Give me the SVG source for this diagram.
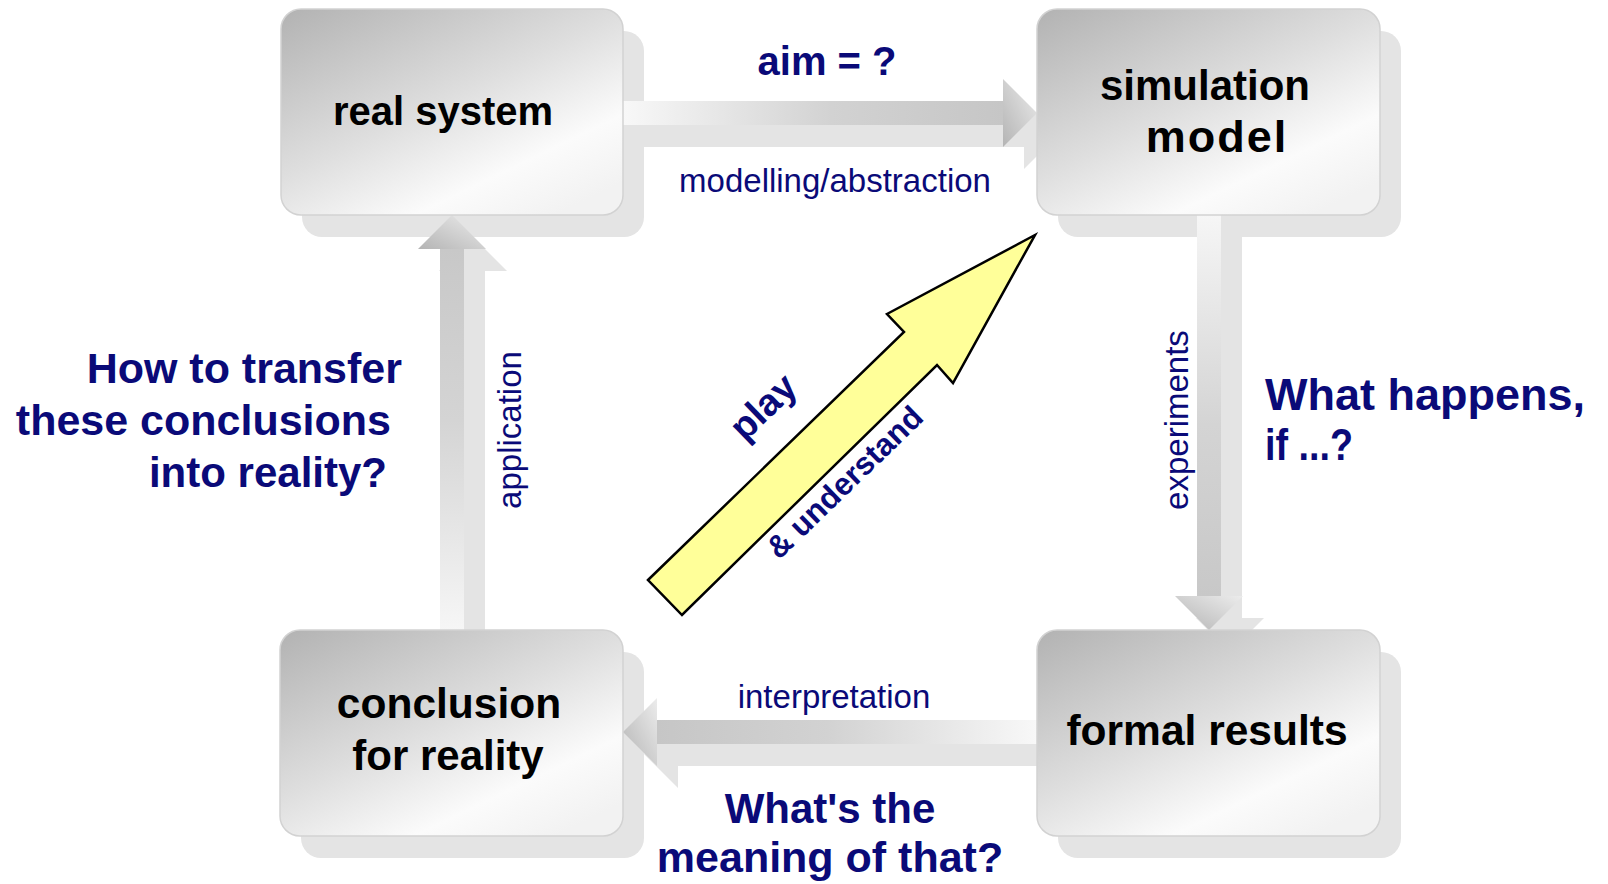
<svg xmlns="http://www.w3.org/2000/svg" width="1608" height="884" viewBox="0 0 1608 884">
<style>
text{font-family:"Liberation Sans",Arial,"DejaVu Sans",sans-serif}
.bl{font-weight:bold;font-size:42px;fill:#000;text-anchor:middle}
.q{font-weight:bold;fill:#0a0a78}
.lb{font-size:33px;fill:#0a0a78}
.shadow{fill:#e4e4e4}
.box{fill:url(#boxg);stroke:#d2d2d2;stroke-width:1.5}
</style>
<defs>
<linearGradient id="boxg" x1="0" y1="0" x2="0.8" y2="1">
<stop offset="0" stop-color="#b2b2b2"/>
<stop offset="0.5" stop-color="#dedede"/>
<stop offset="0.8" stop-color="#fbfbfb"/>
<stop offset="1" stop-color="#f2f2f2"/>
</linearGradient>
<linearGradient id="gR" gradientUnits="userSpaceOnUse" x1="623" y1="0" x2="1003" y2="0">
<stop offset="0" stop-color="#f8f8f8"/><stop offset="0.55" stop-color="#d2d2d2"/><stop offset="1" stop-color="#c6c6c6"/>
</linearGradient>
<linearGradient id="gL" gradientUnits="userSpaceOnUse" x1="1037" y1="0" x2="657" y2="0">
<stop offset="0" stop-color="#f8f8f8"/><stop offset="0.55" stop-color="#d2d2d2"/><stop offset="1" stop-color="#c6c6c6"/>
</linearGradient>
<linearGradient id="gD" gradientUnits="userSpaceOnUse" x1="0" y1="215" x2="0" y2="596">
<stop offset="0" stop-color="#f6f6f6"/><stop offset="0.55" stop-color="#d4d4d4"/><stop offset="1" stop-color="#c8c8c8"/>
</linearGradient>
<linearGradient id="gU" gradientUnits="userSpaceOnUse" x1="0" y1="630" x2="0" y2="249">
<stop offset="0" stop-color="#f6f6f6"/><stop offset="0.55" stop-color="#d4d4d4"/><stop offset="1" stop-color="#c8c8c8"/>
</linearGradient>
<linearGradient id="gHead" x1="0" y1="1" x2="1" y2="0">
<stop offset="0" stop-color="#b4b4b4"/><stop offset="1" stop-color="#ececec"/>
</linearGradient>
</defs>

<g id="shadows">
<rect class="shadow" x="302" y="31" width="342" height="206" rx="20"/>
<rect class="shadow" x="1058" y="31" width="343" height="206" rx="20"/>
<rect class="shadow" x="301" y="652" width="343" height="206" rx="20"/>
<rect class="shadow" x="1058" y="652" width="343" height="206" rx="20"/>
<polygon class="shadow" points="644,123 1024,123 1024,101 1058,135 1024,169 1024,147 644,147"/>
<polygon class="shadow" points="1218,237 1242,237 1242,618 1264,618 1230,652 1196,618 1218,618"/>
<polygon class="shadow" points="1058,742 678,742 678,720 644,754 678,788 678,766 1058,766"/>
<polygon class="shadow" points="461,652 485,652 485,271 507,271 473,237 439,271 461,271"/>
</g>

<g id="connectors">
<g id="modelling">
<rect x="623" y="101" width="381" height="24" fill="url(#gR)"/>
<polygon points="1003,79 1037,113 1003,147" fill="url(#gHead)"/>
</g>
<g id="experiments">
<rect x="1197" y="215" width="24" height="382" fill="url(#gD)"/>
<polygon points="1175,596 1243,596 1209,630" fill="url(#gHead)"/>
</g>
<g id="interpretation">
<rect x="656" y="720" width="381" height="24" fill="url(#gL)"/>
<polygon points="657,698 623,732 657,766" fill="url(#gHead)"/>
</g>
<g id="application">
<rect x="440" y="248" width="24" height="382" fill="url(#gU)"/>
<polygon points="418,249 452,215 486,249" fill="url(#gHead)"/>
</g>
<polygon id="play-arrow" points="648,580 904,332 887,314 1035,235 953,383 937,365 682,615" fill="#ffff99" stroke="#000" stroke-width="2.5" stroke-linejoin="miter"/>
</g>

<g id="node-real-system">
<rect class="box" x="281" y="9" width="342" height="206" rx="20"/>
<text class="bl" x="443" y="125" style="font-size:40px">real system</text>
</g>
<g id="node-simulation-model">
<rect class="box" x="1037" y="9" width="343" height="206" rx="20"/>
<text class="bl" x="1205" y="100">simulation</text>
<text class="bl" x="1217" y="152" style="font-size:45px;letter-spacing:2px">model</text>
</g>
<g id="node-conclusion">
<rect class="box" x="280" y="630" width="343" height="206" rx="20"/>
<text class="bl" x="449" y="718" style="font-size:42.5px">conclusion</text>
<text class="bl" x="448" y="770">for reality</text>
</g>
<g id="node-formal-results">
<rect class="box" x="1037" y="630" width="343" height="206" rx="20"/>
<text class="bl" x="1207" y="745" style="font-size:42.5px">formal results</text>
</g>

<g id="labels">
<text class="q" x="827" y="75" font-size="40" text-anchor="middle">aim = ?</text>
<text class="lb" x="835" y="192" text-anchor="middle" font-size="33.5">modelling/abstraction</text>
<text class="lb" x="834" y="708" text-anchor="middle" font-size="34">interpretation</text>
<text class="lb" transform="translate(1188,420) rotate(-90)" text-anchor="middle" font-size="34">experiments</text>
<text class="lb" transform="translate(521,430) rotate(-90)" text-anchor="middle" font-size="32.5">application</text>
<text class="q" font-size="45" x="1265" y="410">What happens,</text>
<text class="q" font-size="45" x="1265" y="460" textLength="88" lengthAdjust="spacingAndGlyphs">if ...?</text>
<text class="q" font-size="43" x="402" y="383" text-anchor="end">How to transfer</text>
<text class="q" font-size="43" x="391" y="435" text-anchor="end">these conclusions</text>
<text class="q" font-size="42" x="387" y="487" text-anchor="end">into reality?</text>
<text class="q" font-size="42" x="830" y="823" text-anchor="middle">What's the</text>
<text class="q" font-size="43" x="830" y="872" text-anchor="middle">meaning of that?</text>
<text class="q" font-size="38" transform="translate(772,416) rotate(-44)" text-anchor="middle">play</text>
<text class="q" font-size="31.5" transform="translate(852,490) rotate(-44)" text-anchor="middle">&amp; understand</text>
</g>
</svg>
